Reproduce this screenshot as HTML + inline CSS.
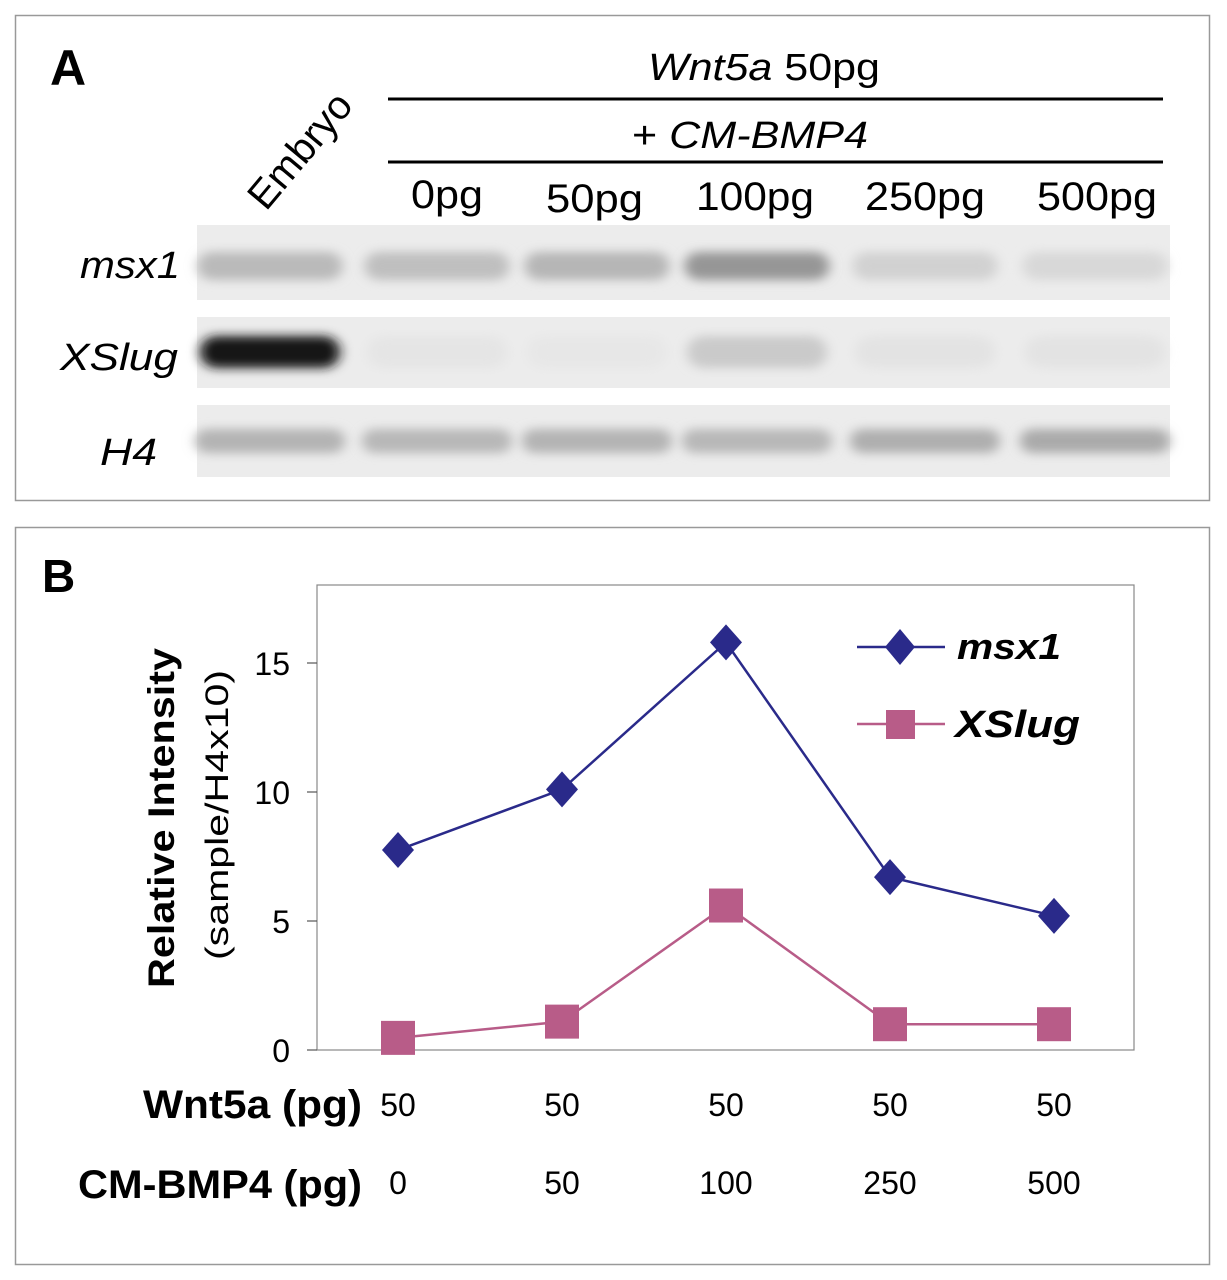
<!DOCTYPE html>
<html><head><meta charset="utf-8"><style>
html,body{margin:0;padding:0;background:#fff;}
svg{display:block;font-family:"Liberation Sans",Arial,sans-serif;}
</style></head><body>
<svg id="fig" width="1227" height="1280" viewBox="0 0 1227 1280" xmlns="http://www.w3.org/2000/svg">
<defs>
<filter id="blur" x="-30%" y="-100%" width="160%" height="300%"><feGaussianBlur stdDeviation="6 5"/></filter>
</defs>
<!-- Panel A -->
<rect x="15.5" y="15.5" width="1194" height="485" fill="#fff" stroke="#999" stroke-width="1.5"/>
<text x="50" y="85" font-size="50" font-weight="bold">A</text>
<text x="0" y="0" font-size="40" transform="translate(266,212) rotate(-50)">Embryo</text>
<text x="648" y="80" font-size="38" textLength="232" lengthAdjust="spacingAndGlyphs"><tspan font-style="italic">Wnt5a</tspan> 50pg</text>
<line x1="388" y1="99" x2="1163" y2="99" stroke="#000" stroke-width="3"/>
<text x="632" y="148" font-size="38" textLength="236" lengthAdjust="spacingAndGlyphs">+ <tspan font-style="italic">CM-BMP4</tspan></text>
<line x1="388" y1="162" x2="1163" y2="162" stroke="#000" stroke-width="3"/>
<g font-size="40">
<text x="411" y="208" textLength="72" lengthAdjust="spacingAndGlyphs">0pg</text>
<text x="546" y="212" textLength="97" lengthAdjust="spacingAndGlyphs">50pg</text>
<text x="696" y="210" textLength="118" lengthAdjust="spacingAndGlyphs">100pg</text>
<text x="865" y="210" textLength="120" lengthAdjust="spacingAndGlyphs">250pg</text>
<text x="1037" y="210" textLength="120" lengthAdjust="spacingAndGlyphs">500pg</text>
</g>
<g font-size="38" font-style="italic">
<text x="80" y="278" textLength="100" lengthAdjust="spacingAndGlyphs">msx1</text>
<text x="60" y="370" textLength="118" lengthAdjust="spacingAndGlyphs">XSlug</text>
<text x="100" y="465" textLength="57" lengthAdjust="spacingAndGlyphs">H4</text>
</g>
<g id="gel"></g>
<!-- Panel B -->
<rect x="15.5" y="527.5" width="1194" height="737" fill="#fff" stroke="#999" stroke-width="1.5"/>
<text x="42" y="592" font-size="46" font-weight="bold">B</text>
<rect x="317" y="585" width="817" height="465" fill="#fff" stroke="#888" stroke-width="1.2"/>
<text transform="translate(174,818) rotate(-90)" font-size="37" font-weight="bold" text-anchor="middle" textLength="340" lengthAdjust="spacingAndGlyphs">Relative Intensity</text>
<text transform="translate(228,815) rotate(-90)" font-size="32" text-anchor="middle" textLength="290" lengthAdjust="spacingAndGlyphs">(sample/H4x10)</text>
<g id="chart"></g>
<g>
<g>
<line x1="857" y1="647" x2="945" y2="647" stroke="#2a2a8a" stroke-width="2.5"/>
<polygon points="900,629 915,647 900,665 885,647" fill="#2a2a8a"/>
<text x="957" y="659" font-size="36" font-weight="bold" font-style="italic" textLength="104" lengthAdjust="spacingAndGlyphs">msx1</text>
</g>
<g>
<line x1="857" y1="724" x2="945" y2="724" stroke="#b85c88" stroke-width="2.5"/>
<rect x="886" y="710" width="29" height="29" fill="#b85c88"/>
<text x="955" y="737" font-size="38" font-weight="bold" font-style="italic" textLength="125" lengthAdjust="spacingAndGlyphs">XSlug</text>
</g>
</g>
<text x="143" y="1118" font-size="40" font-weight="bold" textLength="219" lengthAdjust="spacingAndGlyphs">Wnt5a (pg)</text>
<text x="78" y="1198" font-size="40" font-weight="bold" textLength="284" lengthAdjust="spacingAndGlyphs">CM-BMP4 (pg)</text>
</svg>
<script>
// Gel data (band darkness 0..1)
const lanes = ["Embryo","0pg","50pg","100pg","250pg","500pg"];
const msx1Bands = [0.22, 0.2, 0.24, 0.38, 0.12, 0.09];
const xslugBands = [0.95, 0.03, 0.02, 0.15, 0.04, 0.04];
const h4Bands = [0.25, 0.23, 0.25, 0.23, 0.27, 0.29];
// Chart data
const categories = ["1","2","3","4","5"];
const wnt5aValues = ["50","50","50","50","50"];
const bmp4Values = ["0","50","100","250","500"];
const yTicks = [0,5,10,15];
const msx1Values = [7.75, 10.1, 15.8, 6.7, 5.2];
const xslugValues = [0.47, 1.1, 5.6, 1.0, 1.0];

const NS = "http://www.w3.org/2000/svg";
function mk(tag, attrs, parent){const e=document.createElementNS(NS,tag);for(const k in attrs)e.setAttribute(k,attrs[k]);parent.appendChild(e);return e;}

// Gel
const gel = document.getElementById("gel");
const laneX = i => [270,437,597,757,925,1095][i];
const rows = [
  {name:"msx1", y:225, h:75, cy:266, data:msx1Bands, bw:145, bh:28},
  {name:"xslug", y:317, h:71, cy:352, data:xslugBands, bw:140, bh:32},
  {name:"h4", y:405, h:72, cy:441, data:h4Bands, bw:150, bh:24}
];
rows.forEach(r=>{
  const strip = mk("rect",{x:197,y:r.y,width:973,height:r.h,fill:"#ececec"},gel);
  
  
  r.data.forEach((v,i)=>{
    const g = Math.round(236 - v*226);
    const b = mk("rect",{x:laneX(i)-r.bw/2,y:r.cy-r.bh/2,width:r.bw,height:r.bh,rx:r.bh/2,fill:`rgb(${g},${g},${g})`,filter:"url(#blur)"},gel);
    
    
  });
});

// Chart
const chart = document.getElementById("chart");
const xPos = i => 398 + i*164;
const yPos = v => 1050 - v*25.8;
yTicks.forEach(t=>{
  const tk = mk("line",{x1:307,y1:yPos(t),x2:317,y2:yPos(t),stroke:"#555","stroke-width":1.2},chart);
  
  
  const lb = mk("text",{x:290,y:yPos(t)+12,"font-size":32,"text-anchor":"end"},chart);
  lb.textContent = t;
  
  
});
function series(vals, color, name, marker){
  const pts = vals.map((v,i)=>xPos(i)+","+yPos(v)).join(" ");
  const pl = mk("polyline",{points:pts,fill:"none",stroke:color,"stroke-width":2.5},chart);
  
  
  vals.forEach((v,i)=>{
    const x=xPos(i), y=yPos(v);
    let m;
    if(marker==="diamond") m = mk("polygon",{points:`${x},${y-18} ${x+16},${y} ${x},${y+18} ${x-16},${y}`,fill:color},chart);
    else m = mk("rect",{x:x-17,y:y-17,width:34,height:34,fill:color},chart);
    
    
  });
}
series(xslugValues,"#b85c88","xslug","square");
series(msx1Values,"#2a2a8a","msx1","diamond");
wnt5aValues.forEach((v,i)=>{
  const t = mk("text",{x:xPos(i),y:1116,"font-size":32,"text-anchor":"middle"},chart);
  t.textContent=v;
  
  
});
bmp4Values.forEach((v,i)=>{
  const t = mk("text",{x:xPos(i),y:1194,"font-size":32,"text-anchor":"middle"},chart);
  t.textContent=v;
  
  
});
</script>
</body></html>
